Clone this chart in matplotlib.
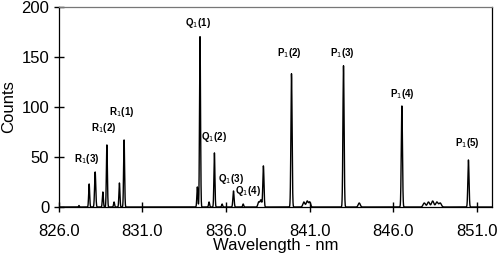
import numpy as np
import matplotlib.pyplot as plt

plt.rcParams['font.family'] = ['Liberation Sans', 'DejaVu Sans']

# peak centres (nm), heights (counts) and widths (nm, sigma)
centers = [827.2, 827.81, 828.17, 828.63, 828.87, 829.30, 829.62, 829.90,
           834.28, 834.44, 834.98, 835.30, 835.76, 836.44, 837.02,
           837.95, 838.08, 838.23, 839.91, 840.65, 840.85, 841.0,
           843.02, 843.96, 846.51, 847.85, 848.1, 848.35, 848.6, 848.8, 850.49]
heights = [1.5, 23, 35, 15, 62, 5, 24, 67,
           20, 170, 5, 54, 3, 16, 3,
           5, 7, 41, 133, 5, 6, 5,
           141, 4, 101, 4, 5, 6, 5, 4, 47]
widths = [0.02, 0.03, 0.035, 0.03, 0.03, 0.03, 0.03, 0.03,
          0.03, 0.03, 0.03, 0.03, 0.03, 0.035, 0.03,
          0.05, 0.05, 0.035, 0.035, 0.06, 0.06, 0.05,
          0.035, 0.06, 0.035, 0.07, 0.07, 0.07, 0.07, 0.07, 0.035]

labels = ['R$_1$(3)', 'R$_1$(2)', 'R$_1$(1)', 'Q$_1$(1)', 'Q$_1$(2)', 'Q$_1$(3)',
          'Q$_1$(4)', 'P$_1$(2)', 'P$_1$(3)', 'P$_1$(4)', 'P$_1$(5)']
label_x = [827.69, 828.70, 829.78, 834.33, 835.28, 836.30, 837.32, 839.77,
           842.94, 846.53, 850.41]
label_y = [48, 79, 95, 184, 70, 28, 16, 154, 154, 113, 64]

wl = np.linspace(826.0, 851.9, 6000)
counts = np.zeros_like(wl)
for c, h, w in zip(centers, heights, widths):
    counts += h * np.exp(-0.5 * ((wl - c) / w) ** 2)

fig = plt.figure(figsize=(4.99, 2.54), dpi=100)
ax = fig.add_axes([0.118, 0.185, 0.868, 0.789])
ax.plot(wl, counts, color='black', lw=1.0)

for t, x, y in zip(labels, label_x, label_y):
    ax.text(x, y, t, ha='center', va='center', fontsize=7, fontweight='bold')

ax.set_xlim(826.0, 851.9)
ax.set_ylim(0, 200)
ax.set_xticks([826, 831, 836, 841, 846, 851])
ax.set_xticklabels(['826.0', '831.0', '836.0', '841.0', '846.0', '851.0'])
ax.set_yticks([0, 50, 100, 150, 200])
ax.tick_params(direction='inout', length=7, width=1, labelsize=12)
ax.tick_params(axis='x', pad=9)
ax.set_xlabel('Wavelength - nm', fontsize=12, labelpad=-1)
ax.set_ylabel('Counts', fontsize=12, labelpad=4)
for s in ax.spines.values():
    s.set_linewidth(0.9)
ax.spines['top'].set_color('#777777')

fig.savefig('out.png', dpi=100)
